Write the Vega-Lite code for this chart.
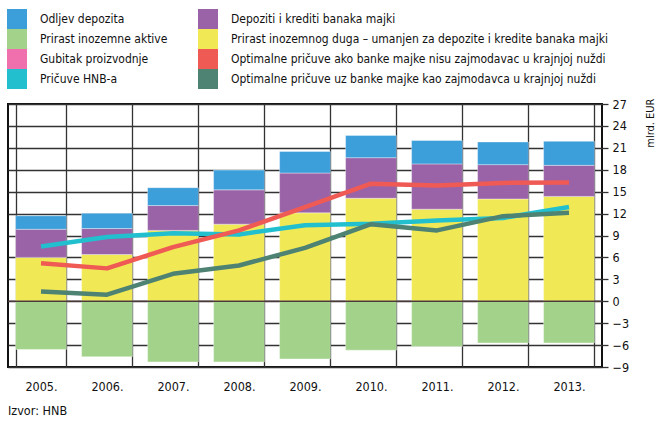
{
  "$schema": "https://vega.github.io/schema/vega-lite/v6.json",
  "width": 594,
  "height": 263,
  "autosize": {"type": "none"},
  "padding": {"left": 8, "top": 104, "right": 54, "bottom": 56},
  "background": "white",
  "config": {
    "font": "DejaVu Sans Condensed",
    "view": {"stroke": "#111111", "strokeWidth": 2},
    "axis": {"labelFont": "DejaVu Sans Condensed", "labelFontSize": 12.5, "labelColor": "#111111", "titleFont": "DejaVu Sans Condensed", "titleColor": "#111111", "gridColor": "#333333", "gridWidth": 1.3, "gridOpacity": 1}
  },
  "datasets": {
    "series": [
      {"series": "Prirast inozemnog duga – umanjen za depozite i kredite banaka majki", "rank": 1},
      {"series": "Depoziti i krediti banaka majki", "rank": 2},
      {"series": "Odljev depozita", "rank": 3},
      {"series": "Prirast inozemne aktive", "rank": 4}
    ],
    "bars": [
      {"year": "2005.", "series": "Prirast inozemnog duga – umanjen za depozite i kredite banaka majki", "value": 6.0},
      {"year": "2005.", "series": "Depoziti i krediti banaka majki", "value": 3.85},
      {"year": "2005.", "series": "Odljev depozita", "value": 1.85},
      {"year": "2005.", "series": "Prirast inozemne aktive", "value": -6.6},
      {"year": "2006.", "series": "Prirast inozemnog duga – umanjen za depozite i kredite banaka majki", "value": 6.4},
      {"year": "2006.", "series": "Depoziti i krediti banaka majki", "value": 3.55},
      {"year": "2006.", "series": "Odljev depozita", "value": 2.1},
      {"year": "2006.", "series": "Prirast inozemne aktive", "value": -7.6},
      {"year": "2007.", "series": "Prirast inozemnog duga – umanjen za depozite i kredite banaka majki", "value": 9.7},
      {"year": "2007.", "series": "Depoziti i krediti banaka majki", "value": 3.4},
      {"year": "2007.", "series": "Odljev depozita", "value": 2.45},
      {"year": "2007.", "series": "Prirast inozemne aktive", "value": -8.3},
      {"year": "2008.", "series": "Prirast inozemnog duga – umanjen za depozite i kredite banaka majki", "value": 10.55},
      {"year": "2008.", "series": "Depoziti i krediti banaka majki", "value": 4.7},
      {"year": "2008.", "series": "Odljev depozita", "value": 2.7},
      {"year": "2008.", "series": "Prirast inozemne aktive", "value": -8.3},
      {"year": "2009.", "series": "Prirast inozemnog duga – umanjen za depozite i kredite banaka majki", "value": 12.1},
      {"year": "2009.", "series": "Depoziti i krediti banaka majki", "value": 5.45},
      {"year": "2009.", "series": "Odljev depozita", "value": 2.95},
      {"year": "2009.", "series": "Prirast inozemne aktive", "value": -7.9},
      {"year": "2010.", "series": "Prirast inozemnog duga – umanjen za depozite i kredite banaka majki", "value": 14.1},
      {"year": "2010.", "series": "Depoziti i krediti banaka majki", "value": 5.55},
      {"year": "2010.", "series": "Odljev depozita", "value": 3.05},
      {"year": "2010.", "series": "Prirast inozemne aktive", "value": -6.7},
      {"year": "2011.", "series": "Prirast inozemnog duga – umanjen za depozite i kredite banaka majki", "value": 12.6},
      {"year": "2011.", "series": "Depoziti i krediti banaka majki", "value": 6.2},
      {"year": "2011.", "series": "Odljev depozita", "value": 3.2},
      {"year": "2011.", "series": "Prirast inozemne aktive", "value": -6.2},
      {"year": "2012.", "series": "Prirast inozemnog duga – umanjen za depozite i kredite banaka majki", "value": 14.0},
      {"year": "2012.", "series": "Depoziti i krediti banaka majki", "value": 4.7},
      {"year": "2012.", "series": "Odljev depozita", "value": 3.1},
      {"year": "2012.", "series": "Prirast inozemne aktive", "value": -5.7},
      {"year": "2013.", "series": "Prirast inozemnog duga – umanjen za depozite i kredite banaka majki", "value": 14.35},
      {"year": "2013.", "series": "Depoziti i krediti banaka majki", "value": 4.25},
      {"year": "2013.", "series": "Odljev depozita", "value": 3.3},
      {"year": "2013.", "series": "Prirast inozemne aktive", "value": -5.7}
    ],
    "lines": [
      {"year": "2005.", "series": "Pričuve HNB-a", "value": 7.5},
      {"year": "2006.", "series": "Pričuve HNB-a", "value": 8.8},
      {"year": "2007.", "series": "Pričuve HNB-a", "value": 9.3},
      {"year": "2008.", "series": "Pričuve HNB-a", "value": 9.15},
      {"year": "2009.", "series": "Pričuve HNB-a", "value": 10.4},
      {"year": "2010.", "series": "Pričuve HNB-a", "value": 10.6},
      {"year": "2011.", "series": "Pričuve HNB-a", "value": 11.05},
      {"year": "2012.", "series": "Pričuve HNB-a", "value": 11.4},
      {"year": "2013.", "series": "Pričuve HNB-a", "value": 12.9},
      {"year": "2005.", "series": "Optimalne pričuve ako banke majke nisu zajmodavac u krajnjoj nuždi", "value": 5.2},
      {"year": "2006.", "series": "Optimalne pričuve ako banke majke nisu zajmodavac u krajnjoj nuždi", "value": 4.5},
      {"year": "2007.", "series": "Optimalne pričuve ako banke majke nisu zajmodavac u krajnjoj nuždi", "value": 7.4},
      {"year": "2008.", "series": "Optimalne pričuve ako banke majke nisu zajmodavac u krajnjoj nuždi", "value": 9.7},
      {"year": "2009.", "series": "Optimalne pričuve ako banke majke nisu zajmodavac u krajnjoj nuždi", "value": 12.9},
      {"year": "2010.", "series": "Optimalne pričuve ako banke majke nisu zajmodavac u krajnjoj nuždi", "value": 16.1},
      {"year": "2011.", "series": "Optimalne pričuve ako banke majke nisu zajmodavac u krajnjoj nuždi", "value": 15.85},
      {"year": "2012.", "series": "Optimalne pričuve ako banke majke nisu zajmodavac u krajnjoj nuždi", "value": 16.2},
      {"year": "2013.", "series": "Optimalne pričuve ako banke majke nisu zajmodavac u krajnjoj nuždi", "value": 16.25},
      {"year": "2005.", "series": "Optimalne pričuve uz banke majke kao zajmodavca u krajnjoj nuždi", "value": 1.35},
      {"year": "2006.", "series": "Optimalne pričuve uz banke majke kao zajmodavca u krajnjoj nuždi", "value": 0.9},
      {"year": "2007.", "series": "Optimalne pričuve uz banke majke kao zajmodavca u krajnjoj nuždi", "value": 3.75},
      {"year": "2008.", "series": "Optimalne pričuve uz banke majke kao zajmodavca u krajnjoj nuždi", "value": 4.9},
      {"year": "2009.", "series": "Optimalne pričuve uz banke majke kao zajmodavca u krajnjoj nuždi", "value": 7.3},
      {"year": "2010.", "series": "Optimalne pričuve uz banke majke kao zajmodavca u krajnjoj nuždi", "value": 10.55},
      {"year": "2011.", "series": "Optimalne pričuve uz banke majke kao zajmodavca u krajnjoj nuždi", "value": 9.7},
      {"year": "2012.", "series": "Optimalne pričuve uz banke majke kao zajmodavca u krajnjoj nuždi", "value": 11.65},
      {"year": "2013.", "series": "Optimalne pričuve uz banke majke kao zajmodavca u krajnjoj nuždi", "value": 12.1}
    ]
  },
  "title": {"text": "Izvor: HNB", "orient": "bottom", "anchor": "start", "frame": "group", "fontSize": 12.5, "fontWeight": "normal", "font": "DejaVu Sans Condensed", "color": "#111111", "offset": 12},
  "layer": [
    {
      "data": {"name": "bars"},
      "transform": [{"lookup": "series", "from": {"data": {"name": "series"}, "key": "series", "fields": ["rank"]}}],
      "mark": {"type": "bar", "stroke": "#ffffff", "strokeWidth": 0.6, "strokeOpacity": 0.6},
      "encoding": {
        "x": {"field": "year", "type": "nominal", "sort": null,
              "scale": {"paddingInner": 0.23, "paddingOuter": 0.115},
              "axis": {"title": null, "labelAngle": 0, "ticks": false, "domain": false, "grid": true, "tickBand": "extent", "labelPadding": 13}},
        "y": {"field": "value", "type": "quantitative", "stack": "zero",
              "scale": {"domain": [-9, 27], "nice": false, "zero": false},
              "axis": {"orient": "right", "values": [-9, -6, -3, 0, 3, 6, 9, 12, 15, 18, 21, 24, 27], "domain": false, "grid": true,
                       "tickSize": 6, "tickColor": "#333333", "tickWidth": 1.3, "labelPadding": 4, "labelOverlap": false,
                       "title": "mlrd. EUR", "titleAngle": 270, "titleX": 48, "titleY": -6, "titleAlign": "right", "titleBaseline": "middle", "titleFontSize": 11, "titleFontWeight": "normal"}},
        "color": {"field": "series", "type": "nominal",
                  "scale": {
                    "domain": ["Odljev depozita", "Prirast inozemne aktive", "Gubitak proizvodnje", "Pričuve HNB-a", "Depoziti i krediti banaka majki", "Prirast inozemnog duga – umanjen za depozite i kredite banaka majki", "Optimalne pričuve ako banke majke nisu zajmodavac u krajnjoj nuždi", "Optimalne pričuve uz banke majke kao zajmodavca u krajnjoj nuždi"],
                    "range": ["#3d9fda", "#a3d38b", "#ef70ad", "#22bfcf", "#9a63a8", "#f0e955", "#ef5a55", "#4e8272"]
                  },
                  "legend": {
                    "orient": "none", "legendX": -1, "legendY": -95, "columns": 2, "title": null, "padding": 0,
                    "symbolSize": 400, "symbolStrokeWidth": 0, "rowPadding": -7, "columnPadding": 30, "labelOffset": 13,
                    "labelFont": "DejaVu Sans Condensed", "labelFontSize": 12, "labelColor": "#111111", "labelLimit": 600,
                    "encode": {"symbols": {"update": {
                      "shape": {"signal": "test(/HNB|Optimalne/, datum.value) ? 'M-0.5,-0.1H0.5V0.1H-0.5Z' : 'M-0.5,-0.48H0.5V0.48H-0.5Z'"},
                      "fill": {"signal": "scale('color', datum.value)"},
                      "strokeWidth": {"value": 0},
                      "opacity": {"value": 1}
                    }}}
                  }},
        "order": {"field": "rank", "type": "quantitative"}
      }
    },
    {
      "data": {"values": [{"value": 0}]},
      "mark": {"type": "rule", "color": "#4a3a3a", "strokeWidth": 1.3},
      "encoding": {"y": {"field": "value", "type": "quantitative",
              "axis": {"orient": "right", "values": [-9, -6, -3, 0, 3, 6, 9, 12, 15, 18, 21, 24, 27], "domain": false, "grid": true,
                       "tickSize": 6, "tickColor": "#333333", "tickWidth": 1.3, "labelPadding": 4, "labelOverlap": false,
                       "title": "mlrd. EUR", "titleAngle": 270, "titleX": 48, "titleY": -6, "titleAlign": "right", "titleBaseline": "middle", "titleFontSize": 11, "titleFontWeight": "normal"}}}
    },
    {
      "data": {"name": "lines"},
      "mark": {"type": "line", "strokeWidth": 4.5, "strokeCap": "butt", "strokeJoin": "round"},
      "encoding": {
        "x": {"field": "year", "type": "nominal", "sort": null},
        "y": {"field": "value", "type": "quantitative",
              "axis": {"orient": "right", "values": [-9, -6, -3, 0, 3, 6, 9, 12, 15, 18, 21, 24, 27], "domain": false, "grid": true,
                       "tickSize": 6, "tickColor": "#333333", "tickWidth": 1.3, "labelPadding": 4, "labelOverlap": false,
                       "title": "mlrd. EUR", "titleAngle": 270, "titleX": 48, "titleY": -6, "titleAlign": "right", "titleBaseline": "middle", "titleFontSize": 11, "titleFontWeight": "normal"}},
        "color": {"field": "series", "type": "nominal"}
      }
    }
  ]
}
